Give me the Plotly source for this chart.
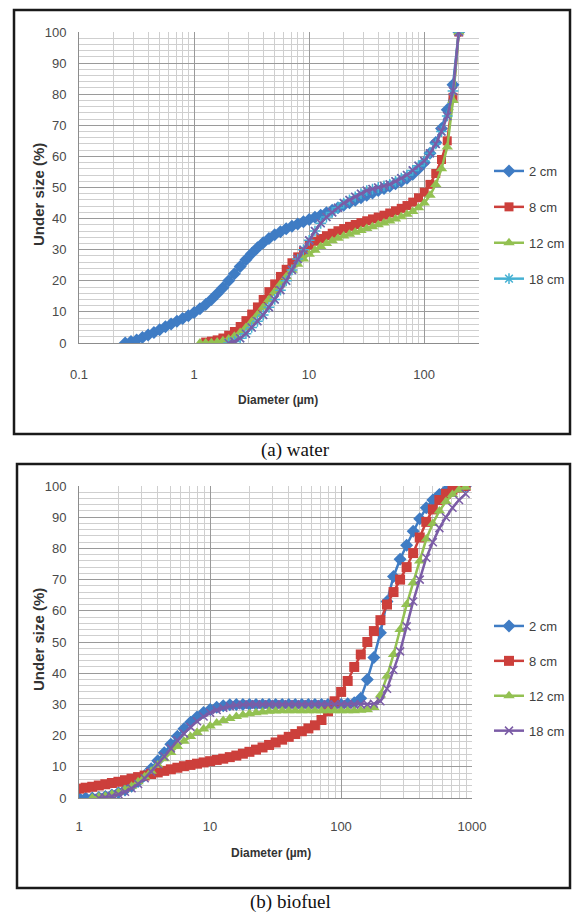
import plotly.graph_objects as go

# ---------------- data: (a) water ----------------
size_water_um = [0.252, 0.283, 0.317, 0.356, 0.399, 0.448, 0.502, 0.564, 0.632, 0.710, 0.796, 0.893,
                 1.002, 1.125, 1.262, 1.416, 1.589, 1.783, 2.000, 2.244, 2.518, 2.825, 3.170, 3.557,
                 3.991, 4.477, 5.024, 5.637, 6.325, 7.096, 7.962, 8.934,
                 10.024, 11.247, 12.619, 14.159, 15.887, 17.825, 20.000, 22.440, 25.179, 28.251,
                 31.698, 35.566, 39.905, 44.774, 50.238, 56.368, 63.246, 70.963, 79.621, 89.337,
                 100.237, 112.468, 126.191, 141.589, 158.866, 178.250, 200.000]

water_2cm = [0, 0.5, 1, 1.8, 2.6, 3.4, 4.3, 5.2, 6.1, 7, 7.9, 8.8,
             9.8, 11, 12.4, 14, 15.8, 17.8, 20, 22.3, 24.6, 26.8, 28.8, 30.6, 32.2, 33.6, 34.8, 35.8,
             36.7, 37.5, 38.3, 39,
             39.7, 40.4, 41.1, 41.9, 42.7, 43.5, 44.3, 45.1, 45.9, 46.7, 47.5, 48.2, 49, 49.7, 50.4,
             51.2, 52, 53, 54.3, 56,
             58, 61, 64.5, 69, 75, 83, 100]

water_8cm = [None] * 14 + [0.3, 0.6, 1.0, 1.6, 2.5, 3.7, 5.3, 7.2, 9.3, 11.6, 14, 16.5, 19, 21.4,
                           23.7, 25.8, 27.7, 29.4,
                           31.5, 32.7, 33.6, 34.5, 35.3, 36.1, 36.8, 37.5, 38.1, 38.7, 39.3, 39.9,
                           40.5, 41.1, 41.8, 42.5, 43.3, 44.2, 45.3, 46.7,
                           48.5, 51, 54.5, 59, 65, 79, 100]

water_12cm = [None] * 13 + [0, 0, 0.1, 0.3, 0.7, 1.3, 2.2, 3.4, 5, 6.9, 9.1, 11.5, 14, 16.5, 19,
                            21.3, 23.4, 25.3, 27,
                            28.5, 29.8, 31, 32, 32.9, 33.7, 34.4, 35, 35.6, 36.2, 36.8, 37.4, 38,
                            38.6, 39.2, 39.9, 40.6, 41.4, 42.3, 43.5,
                            45, 47.5, 51, 56, 63, 78, 100]

water_18cm = [None] * 18 + [0, 0.5, 1.5, 3, 5, 7, 9, 11.5, 14, 17, 20, 23.5, 27, 30,
                            33, 36, 38.5, 40.5, 42, 43.5, 45, 46, 47, 48, 49, 49.5, 50, 50.5, 51,
                            52, 53, 54, 55.5, 57,
                            58.5, 61, 64, 68, 73, 81, 100]

# ---------------- data: (b) biofuel ----------------
size_biofuel_um = [1.002, 1.125, 1.262, 1.416, 1.589, 1.783, 2.000, 2.244, 2.518, 2.825, 3.170,
                   3.557, 3.991, 4.477, 5.024, 5.637, 6.325, 7.096, 7.962, 8.934,
                   10.024, 11.247, 12.619, 14.159, 15.887, 17.825, 20.000, 22.440, 25.179, 28.251,
                   31.698, 35.566, 39.905, 44.774, 50.238, 56.368, 63.246, 70.963, 79.621, 89.337,
                   100.237, 112.468, 126.191, 141.589, 158.866, 178.250, 200.000, 224.404, 251.785,
                   282.508, 316.979, 355.656, 399.052, 447.744, 502.377, 563.677, 632.456, 709.627,
                   796.214, 893.367]

biofuel_2cm = [0, 0, 0, 0.2, 0.5, 1, 1.7, 2.6, 3.8, 5.3, 7.2, 9.4, 11.9, 14.5, 17.2, 19.8, 22.2,
               24.3, 26, 27.4,
               28.4, 29.1, 29.6, 29.9, 30, 30, 30, 30, 30, 30, 30, 30, 30, 30, 30, 30, 30, 30, 30, 30,
               30, 30.2, 30.5, 32, 38, 45, 53, 63, 71, 76.5, 81, 85.5, 89.5, 93, 95.5, 97.3, 98.6,
               99.4, 99.8, 100]

biofuel_8cm = [3, 3.3, 3.6, 4, 4.4, 4.8, 5.2, 5.7, 6.2, 6.7, 7.2, 7.7, 8.2, 8.7, 9.2, 9.7, 10.2,
               10.6, 11, 11.4,
               11.8, 12.2, 12.6, 13.1, 13.6, 14.2, 14.8, 15.5, 16.2, 17, 17.8, 18.7, 19.6, 20.5,
               21.4, 22.3, 23.3, 25, 27.8, 31,
               34, 37.5, 42, 46, 50, 53.5, 57, 62, 66, 70, 74, 78.5, 83.5, 88.5, 92.5, 95.5, 97.5,
               98.8, 99.5, 100]

biofuel_12cm = [None, None, 0, 0.3, 0.6, 1.1, 1.8, 2.7, 3.8, 5.2, 6.8, 8.6, 10.6, 12.6, 14.6,
                16.5, 18.2, 19.7, 21, 22.1,
                23.1, 24, 24.8, 25.5, 26.1, 26.6, 27, 27.3, 27.6, 27.8, 27.9, 28, 28, 28, 28, 28,
                28, 28, 28, 28,
                28, 28, 28, 28.1, 28.3, 29, 33, 39, 46, 54, 62, 69, 76, 83, 88, 92, 95, 97.3, 98.8,
                99.6]

biofuel_18cm = [None, None, None, 0, 0.2, 0.6, 1.2, 2, 3.1, 4.5, 6.3, 8.4, 10.8, 13.3, 15.9, 18.4,
                20.7, 22.8, 24.6, 26.1,
                27.3, 28.2, 28.9, 29.4, 29.7, 29.9, 30, 30, 30, 30, 30, 30, 30, 30, 30, 30, 30, 30,
                30, 30,
                30, 30, 30, 30, 30, 30.2, 31, 35, 41, 47, 55, 63, 70, 77, 82, 86.5, 90, 93, 95.5,
                97.5]

series_names = ["2 cm", "8 cm", "12 cm", "18 cm"]
x_ticks_water = [0.1, 1, 10, 100]
x_ticks_biofuel = [1, 10, 100, 1000]
y_ticks = [0, 10, 20, 30, 40, 50, 60, 70, 80, 90, 100]

# ---------------- styles ----------------
BLUE = "#3f7cc4"
RED = "#cc3f3b"
GREEN = "#93c152"
PURPLE = "#7b5ca6"
CYAN = "#46b1d3"
TICKFONT = dict(family="Liberation Sans Narrow, Liberation Sans, Arial, sans-serif", size=13, color="#4a4a4a")
MAJOR = "#9a9a9a"
MINOR = "#cfcfcf"

fig = go.Figure()


def add(x, y, name, color, symbol, msize, xa, ya, legend, showlegend=True, mline=0):
    fig.add_trace(go.Scatter(
        x=x, y=y, name=name, mode="lines+markers",
        line=dict(color=color, width=2.5),
        marker=dict(symbol=symbol, size=msize, color=color,
                    line=dict(color=color, width=mline)),
        xaxis=xa, yaxis=ya, legend=legend, legendgroup=legend + name,
        showlegend=showlegend, connectgaps=False))


# water
add(size_water_um, water_2cm, series_names[0], BLUE, "diamond", 10, "x", "y", "legend")
add(size_water_um, water_8cm, series_names[1], RED, "square", 9, "x", "y", "legend")
add(size_water_um, water_12cm, series_names[2], GREEN, "triangle-up", 10, "x", "y", "legend")
add(size_water_um, water_18cm, series_names[3], CYAN, "asterisk-open", 9, "x", "y", "legend", mline=1.5)
add(size_water_um, water_18cm, "18 cm ", PURPLE, "x-thin-open", 8, "x", "y", "legend", showlegend=False, mline=1.5)

# biofuel
add(size_biofuel_um, biofuel_2cm, series_names[0], BLUE, "diamond", 10, "x2", "y2", "legend2")
add(size_biofuel_um, biofuel_8cm, series_names[1], RED, "square", 10, "x2", "y2", "legend2")
add(size_biofuel_um, biofuel_12cm, series_names[2], GREEN, "triangle-up", 10, "x2", "y2", "legend2")
add(size_biofuel_um, biofuel_18cm, series_names[3], PURPLE, "x-thin-open", 8, "x2", "y2", "legend2", mline=1.5)


def minor_vals(lo_exp, hi_exp):
    vals = []
    for e in range(lo_exp, hi_exp):
        for m in range(2, 10):
            vals.append(m * 10 ** e)
    return vals


W, H = 576, 915


def xd(a, b):
    return [a / W, b / W]


def yd(top, bottom):
    return [1 - bottom / H, 1 - top / H]


common_x = dict(type="log", showgrid=True, gridcolor=MAJOR, gridwidth=1, showline=True,
                linecolor="#8c8c8c", linewidth=1, ticks="", tickfont=TICKFONT, zeroline=False,
                fixedrange=True, automargin=False)
common_y = dict(range=[0, 100], tickvals=y_ticks, showgrid=True, gridcolor=MAJOR, gridwidth=1,
                showline=True, linecolor="#8c8c8c", linewidth=1, ticks="", tickfont=TICKFONT,
                zeroline=False, ticklabelstandoff=9, automargin=False,
                minor=dict(dtick=2, showgrid=True, gridcolor=MINOR, gridwidth=1))

legend_font = dict(family=TICKFONT["family"], size=13, color="#404040")

fig.update_layout(
    width=W, height=H, margin=dict(l=0, r=0, t=0, b=0, autoexpand=False),
    paper_bgcolor="white", plot_bgcolor="white",
    xaxis=dict(common_x, domain=xd(79, 479), anchor="y", range=[-1, 2.477],
               tickvals=x_ticks_water, ticktext=["0.1", "1", "10", "100"], ticklabelstandoff=19,
               minor=dict(tickmode="array", tickvals=minor_vals(-1, 3), showgrid=True,
                          gridcolor=MINOR, gridwidth=1)),
    yaxis=dict(common_y, domain=yd(32, 343), anchor="x"),
    xaxis2=dict(common_x, domain=xd(79, 472), anchor="y2", range=[0, 3],
                tickvals=x_ticks_biofuel, ticktext=["1", "10", "100", "1000"], ticklabelstandoff=16,
                minor=dict(tickmode="array", tickvals=minor_vals(0, 3), showgrid=True,
                           gridcolor=MINOR, gridwidth=1)),
    yaxis2=dict(common_y, domain=yd(486, 798), anchor="x2"),
    legend=dict(x=489 / W, y=1 - 156 / H, xanchor="left", yanchor="top", font=legend_font,
                traceorder="grouped", tracegroupgap=16, bgcolor="rgba(0,0,0,0)", borderwidth=0),
    legend2=dict(x=489 / W, y=1 - 611 / H, xanchor="left", yanchor="top", font=legend_font,
                 traceorder="grouped", tracegroupgap=15, bgcolor="rgba(0,0,0,0)", borderwidth=0),
    showlegend=True,
)

# panel frames
for (x0, y0, x1, y1) in [(14, 10, 570, 434), (17, 464, 570, 888)]:
    fig.add_shape(type="rect", xref="paper", yref="paper",
                  x0=x0 / W, x1=x1 / W, y0=1 - y1 / H, y1=1 - y0 / H,
                  line=dict(color="#1a1a1a", width=2.5), fillcolor="rgba(0,0,0,0)", layer="below")

bold = dict(family="Liberation Sans, Arial, sans-serif", size=12, color="#333333")
bold_y = dict(family="Liberation Sans, Arial, sans-serif", size=15, color="#333333")
serif = dict(family="Liberation Serif, Times New Roman, serif", size=19, color="#111111")
ann = [
    dict(text="<b>Under size (%)</b>", x=38 / W, y=1 - 195 / H, textangle=-90, font=bold_y),
    dict(text="<b>Under size (%)</b>", x=38 / W, y=1 - 640 / H, textangle=-90, font=bold_y),
    dict(text="<b>Diameter (µm)</b>", x=278 / W, y=1 - 400 / H, font=bold),
    dict(text="<b>Diameter (µm)</b>", x=271 / W, y=1 - 853 / H, font=bold),
    dict(text="(a) water", x=295 / W, y=1 - 450 / H, font=serif),
    dict(text="(b) biofuel", x=290 / W, y=1 - 902 / H, font=serif),
]
for a in ann:
    fig.add_annotation(xref="paper", yref="paper", showarrow=False, xanchor="center",
                       yanchor="middle", **a)

fig.write_html("out.html")
